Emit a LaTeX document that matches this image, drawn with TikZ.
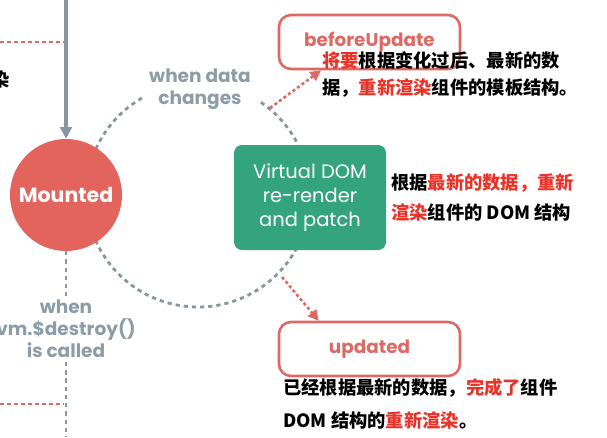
\documentclass[tikz,border=0pt]{standalone}
\usepackage{fontspec}
\setmainfont{Poppins}
\newfontfamily\cjk{Noto Sans CJK SC}
\usetikzlibrary{arrows.meta}
\definecolor{lineGray}{HTML}{8797A2}
\definecolor{labelGray}{HTML}{8E9CA7}
\definecolor{hookRed}{HTML}{E2645D}
\definecolor{boxRed}{HTML}{DC6A64}
\definecolor{textRed}{HTML}{EA3228}
\definecolor{vdomGreen}{HTML}{33A47E}
\newcommand\hl[1]{\textcolor{textRed}{#1}}
\tikzset{
  hook/.style={draw=boxRed, line width=2.2pt, rounded corners=0.36cm, minimum width=5.43cm, minimum height=1.62cm, text=boxRed, font=\fontsize{15.7}{18}\selectfont\bfseries},
  cn/.style={anchor=west, inner sep=0pt, font=\cjk\fontsize{15.6}{18}\selectfont\bfseries},
  graylabel/.style={text=labelGray, align=center, font=\fontsize{15.8}{18.8}\selectfont\bfseries},
  flow/.style={lineGray, line width=2.4pt, dash pattern=on 3.6pt off 3.4pt},
  reddash/.style={boxRed, line width=1.8pt, dash pattern=on 3.4pt off 2.6pt},
  redarrow/.style={boxRed, line width=2.2pt, dash pattern=on 2.6pt off 2.2pt, -{Triangle[length=9pt,width=9pt]}}
}
\begin{document}
\begin{tikzpicture}[x=0.03cm, y=-0.03cm]
    \useasboundingbox (0,0) rectangle (607,437);
        % update cycle
        \draw[flow] (198,195) ++(240:112) arc[start angle=240, end angle=-57.7, radius=112];
        \node[graylabel](changes) at (200,89) {when data\\changes};
        \coordinate (beforeTail) at (270,108);
        \coordinate (updatedTail) at (282,277);
        % hooks
        \node[circle, fill=hookRed, minimum size=3.36cm, inner sep=0pt, text=white, font=\fontsize{17.5}{20}\selectfont\bfseries](mounted) at (66,195) {Mounted};
        \node[fill=vdomGreen, rounded corners=0.24cm, minimum width=4.56cm, minimum height=3.15cm, text=white, align=center, font=\fontsize{16.6}{20.2}\selectfont](vdom) at (310,197.5) {Virtual DOM\\re-render\\and patch};
        \node[hook](before) at (369.5,42) {beforeUpdate};
        \node[hook](updated) at (369.5,349) {updated};
        % connectors
        \coordinate (entry) at (66,0);
        \draw[lineGray, line width=2.6pt, -{Triangle[length=10pt,width=10pt]}] (entry) -- (mounted);
        \node[graylabel](destroy) at (66,329) {when\\vm.\$destroy()\\is called};
        \coordinate (exit) at (66,437);
        \draw[flow] (mounted) -- (destroy);
        \draw[flow] (destroy) -- (exit);
        \coordinate (leftTop) at (0,42);
        \coordinate (joinTop) at (64,42);
        \coordinate (leftBottom) at (0,404);
        \coordinate (joinBottom) at (64,404);
        \draw[reddash] (leftTop) -- (joinTop);
        \draw[reddash] (leftBottom) -- (joinBottom);
        \draw[redarrow] (beforeTail) -- ([xshift=1.3cm]before.south west);
        \draw[redarrow] (updatedTail) -- ([xshift=1.23cm]updated.north west);
        % notes
        \node[cn, anchor=east](cut) at (10,80) {染};
        \node[cn](before1) at (322,60) {\hl{将要}根据变化过后、最新的数};
        \node[cn](before2) at (322,88) {据，\hl{重新渲染}组件的模板结构。};
        \node[cn](vdom1) at (391,183) {根据\hl{最新的数据，重新}};
        \node[cn](vdom2) at (391,213) {\hl{渲染}组件的 DOM 结构};
        \node[cn](updated1) at (283,388) {已经根据最新的数据，\hl{完成了}组件};
        \node[cn](updated2) at (283,420) {DOM 结构的\hl{重新渲染}。};
    \end{tikzpicture}
\end{document}
